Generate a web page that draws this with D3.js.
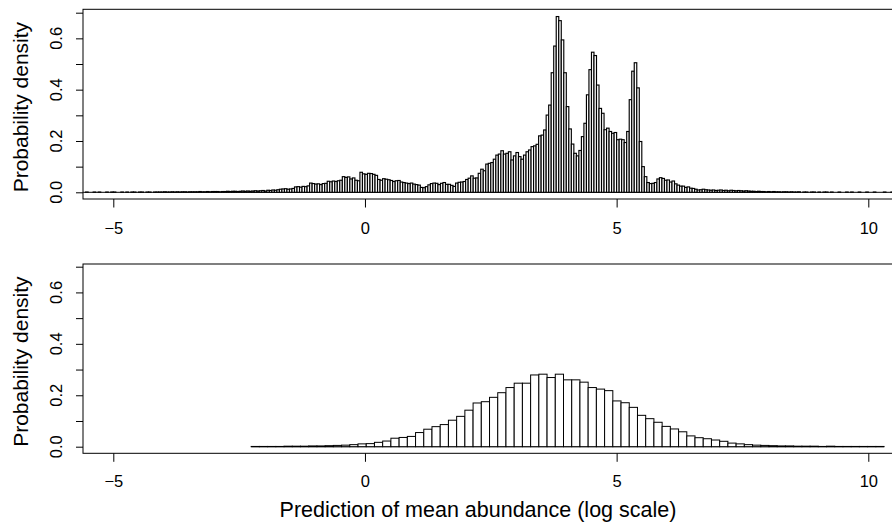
<!DOCTYPE html>
<html>
<head>
<meta charset="utf-8">
<script src="https://cdn.jsdelivr.net/npm/d3@7"></script>
<style>
  html, body { margin: 0; padding: 0; background: #fff; }
  svg { display: block; }
  text { font-family: "Liberation Sans", Arial, Helvetica, sans-serif; fill: #000; }
</style>
</head>
<body>
<svg id="chart" width="892" height="524"></svg>
<script>
// histogram of posterior predictions (top): bins of 0.05 starting at -5.6
const topBreakStart = -5.6;
const topBinWidth = 0.05;
const topDensity = [
  0, 0.001, 0, 0, 0.001, 0, 0.001, 0, 0, 0.001, 0, 0.001, 0.001, 0, 0, 0.001, 0, 0.001, 0, 0.001,
  0.001, 0, 0.001, 0.001, 0, 0.001, 0.001, 0, 0.001, 0.001, 0.001, 0.001, 0.002, 0.001, 0.001, 0.002, 0.001, 0.002, 0.001, 0.002,
  0.002, 0.001, 0.002, 0.002, 0.002, 0.002, 0.003, 0.002, 0.002, 0.003, 0.002, 0.003, 0.003, 0.003, 0.002, 0.003, 0.003, 0.004, 0.003, 0.004,
  0.004, 0.003, 0.004, 0.005, 0.004, 0.005, 0.004, 0.005, 0.006, 0.005, 0.006, 0.007, 0.005, 0.008, 0.007, 0.009, 0.008, 0.010, 0.012, 0.013,
  0.014, 0.012, 0.013, 0.015, 0.021, 0.022, 0.020, 0.023, 0.022, 0.025, 0.036, 0.034, 0.032, 0.033, 0.030, 0.034, 0.035, 0.043, 0.041, 0.044,
  0.042, 0.045, 0.047, 0.061, 0.058, 0.060, 0.052, 0.056, 0.047, 0.045, 0.078, 0.072, 0.070, 0.074, 0.073, 0.070, 0.066, 0.050, 0.047, 0.053,
  0.051, 0.049, 0.046, 0.042, 0.045, 0.046, 0.040, 0.038, 0.036, 0.034, 0.036, 0.032, 0.030, 0.028, 0.019, 0.018, 0.022, 0.029, 0.034, 0.036,
  0.035, 0.030, 0.035, 0.038, 0.031, 0.031, 0.027, 0.023, 0.036, 0.039, 0.040, 0.042, 0.050, 0.055, 0.064, 0.055, 0.056, 0.074, 0.090, 0.084,
  0.110, 0.113, 0.116, 0.129, 0.145, 0.149, 0.162, 0.149, 0.152, 0.158, 0.126, 0.142, 0.155, 0.139, 0.129, 0.145, 0.158, 0.165, 0.178, 0.181,
  0.187, 0.220, 0.223, 0.243, 0.301, 0.340, 0.466, 0.570, 0.685, 0.669, 0.594, 0.466, 0.334, 0.247, 0.188, 0.152, 0.142, 0.163, 0.217, 0.269,
  0.380, 0.478, 0.546, 0.533, 0.418, 0.327, 0.308, 0.244, 0.250, 0.237, 0.230, 0.233, 0.205, 0.207, 0.205, 0.194, 0.237, 0.361, 0.472, 0.505,
  0.407, 0.198, 0.100, 0.061, 0.038, 0.034, 0.035, 0.038, 0.052, 0.057, 0.054, 0.047, 0.048, 0.040, 0.044, 0.033, 0.028, 0.024, 0.024, 0.019,
  0.021, 0.016, 0.015, 0.012, 0.009, 0.010, 0.012, 0.010, 0.009, 0.008, 0.009, 0.007, 0.008, 0.009, 0.007, 0.008, 0.006, 0.008, 0.007, 0.006,
  0.007, 0.006, 0.005, 0.006, 0.005, 0.004, 0.004, 0.003, 0.004, 0.003, 0.003, 0.002, 0.003, 0.002, 0.003, 0.002, 0.002, 0.001, 0.002, 0.002,
  0.001, 0.002, 0.001, 0.001, 0.002, 0, 0.001, 0.001, 0, 0.001, 0.001, 0, 0.001, 0, 0.001, 0.001, 0, 0.001, 0, 0,
  0.001, 0, 0, 0.001, 0, 0.001, 0, 0, 0.001, 0, 0, 0.001, 0, 0, 0.001, 0, 0, 0, 0.001, 0,
  0, 0.001, 0, 0
];

// bottom histogram: wider bins
const bottomBreakStart = -2.261;
const bottomBinWidth = 0.1633;
const bottomDensity = [
  0.001, 0.001, 0.001, 0.001, 0.002, 0.002, 0.002, 0.003, 0.003, 0.004, 0.005, 0.006, 0.008,
  0.011, 0.012, 0.017, 0.022, 0.033, 0.036, 0.040, 0.055, 0.068, 0.078, 0.086, 0.103, 0.118, 0.142, 0.170,
  0.175, 0.192, 0.210, 0.230, 0.247, 0.247, 0.279, 0.282, 0.269, 0.282, 0.260, 0.260, 0.251, 0.230, 0.224, 0.218,
  0.178, 0.171, 0.153, 0.122, 0.109, 0.095, 0.079, 0.069, 0.058, 0.042, 0.035, 0.031, 0.026, 0.021, 0.014,
  0.011, 0.008, 0.006, 0.005, 0.004, 0.003, 0.003, 0.002, 0.002, 0.002, 0.001, 0.002, 0.001, 0.001, 0.001, 0.001, 0.001, 0.001
];

const xTicks = [-5, 0, 5, 10];
const xTickLabels = ["\u22125", "0", "5", "10"];
const yTicks = [0, 0.1, 0.2, 0.3, 0.4, 0.5, 0.6, 0.7];
const yLabelTicks = [0, 0.2, 0.4, 0.6];
const yTitle = "Probability density";
const xTitle = "Prediction of mean abundance (log scale)";

const svg = d3.select("#chart");

const boxLeft = 83, boxRight = 900;
const x = d3.scaleLinear().domain([-5, 10]).range([113.3, 868.3]);

const panels = [
  { data: topDensity, start: topBreakStart, width: topBinWidth, stroke: 1.15, boxTop: 9.3, boxBottom: 199, y0: 192.3, y7: 12.7, labelY: 233.5 },
  { data: bottomDensity, start: bottomBreakStart, width: bottomBinWidth, stroke: 1, boxTop: 264, boxBottom: 453.3, y0: 446.7, y7: 266.7, labelY: 487 }
];

panels.forEach((p, pi) => {
  const y = d3.scaleLinear().domain([0, 0.7]).range([p.y0, p.y7]);

  const clipId = "clip" + pi;
  svg.append("clipPath").attr("id", clipId)
    .append("rect")
    .attr("x", boxLeft).attr("y", p.boxTop)
    .attr("width", boxRight - boxLeft).attr("height", p.boxBottom - p.boxTop);

  const g = svg.append("g").attr("clip-path", `url(#${clipId})`);

  // zero-height bins still show as a line at 0, like R's hist
  g.append("line")
    .attr("x1", x(p.start))
    .attr("x2", x(p.start + p.data.length * p.width))
    .attr("y1", y(0)).attr("y2", y(0))
    .attr("stroke", "#000").attr("stroke-width", 1);

  // bars
  g.selectAll("rect")
    .data(p.data)
    .join("rect")
    .attr("x", (d, i) => x(p.start + i * p.width))
    .attr("width", (d, i) => x(p.start + (i + 1) * p.width) - x(p.start + i * p.width))
    .attr("y", d => y(d))
    .attr("height", d => y(0) - y(d))
    .attr("fill", "#fff")
    .attr("stroke", "#000")
    .attr("stroke-width", p.stroke);

  // box
  svg.append("rect")
    .attr("x", boxLeft).attr("y", p.boxTop)
    .attr("width", boxRight - boxLeft).attr("height", p.boxBottom - p.boxTop)
    .attr("fill", "none").attr("stroke", "#000").attr("stroke-width", 1);

  // x axis
  const xAxis = svg.append("g")
    .attr("transform", `translate(0,${p.boxBottom})`)
    .call(d3.axisBottom(x).tickValues(xTicks).tickSize(8.5).tickFormat((d, i) => xTickLabels[i]));
  xAxis.select(".domain").remove();
  xAxis.selectAll("line").attr("stroke", "#000");
  xAxis.selectAll("text")
    .attr("y", null).attr("dy", null)
    .attr("transform", `translate(0,${p.labelY - p.boxBottom})`)
    .style("font-size", "16.5px")
    .style("font-family", "'Liberation Sans', Arial, sans-serif");

  // y axis
  const yAxis = svg.append("g")
    .attr("transform", `translate(${boxLeft},0)`)
    .call(d3.axisLeft(y).tickValues(yTicks).tickSize(7).tickFormat(""));
  yAxis.select(".domain").remove();
  yAxis.selectAll("line").attr("stroke", "#000");

  svg.append("g").selectAll("text")
    .data(yLabelTicks)
    .join("text")
    .attr("transform", d => `translate(62,${y(d)}) rotate(-90)`)
    .attr("text-anchor", "middle")
    .style("font-size", "16.5px")
    .text(d => d.toFixed(1));

  // y title
  svg.append("text")
    .attr("transform", `translate(28,${(p.boxTop + p.boxBottom) / 2 + 3}) rotate(-90)`)
    .attr("text-anchor", "middle")
    .style("font-size", "21px")
    .text(yTitle);
});

svg.append("text")
  .attr("x", 478).attr("y", 517)
  .attr("text-anchor", "middle")
  .style("font-size", "21.5px")
  .text(xTitle);
</script>
</body>
</html>
